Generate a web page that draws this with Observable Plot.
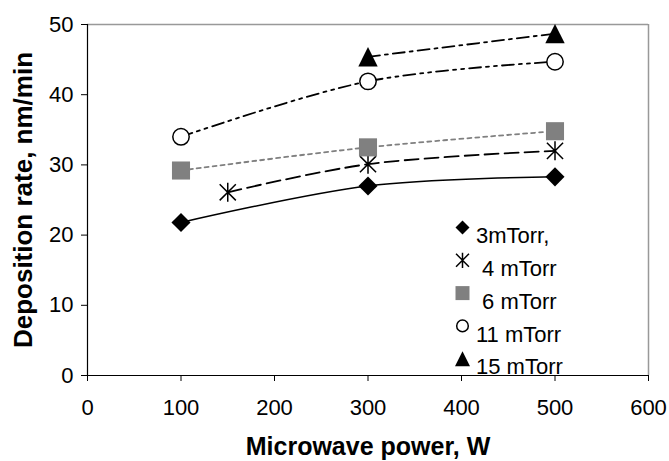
<!DOCTYPE html>
<html>
<head>
<meta charset="utf-8">
<script src="https://cdn.jsdelivr.net/npm/d3@7"></script>
<script src="https://cdn.jsdelivr.net/npm/@observablehq/plot@0.6"></script>
<style>
  html, body { margin: 0; padding: 0; background: #fff; }
  #chart svg text { white-space: pre; }
</style>
</head>
<body>
<div id="chart"></div>
<script>
// ---- data ----
const seriesNames = ["3mTorr,", " 4 mTorr", " 6 mTorr", "11 mTorr", "15 mTorr"];
const power3 = [100, 300, 500];
const rate3 = [21.8, 27.0, 28.3];
const power4 = [150, 300, 500];
const rate4 = [26.1, 30.1, 32.0];
const power6 = [100, 300, 500];
const rate6 = [29.2, 32.5, 34.8];
const power11 = [100, 300, 500];
const rate11 = [34.0, 41.9, 44.7];
const power15 = [300, 500];
const rate15 = [45.4, 48.7];
const xTicks = [0, 100, 200, 300, 400, 500, 600];
const yTicks = [0, 10, 20, 30, 40, 50];
const xTitle = "Microwave power, W";
const yTitle = "Deposition rate, nm/min";

// ---- custom marker shapes ----
const triangleSym = {
  draw(ctx, size) {
    const a = Math.sqrt(size / Math.PI);
    ctx.moveTo(0, -a); ctx.lineTo(a, a); ctx.lineTo(-a, a); ctx.closePath();
  }
};
const asteriskSym = {
  draw(ctx, size) {
    const a = Math.sqrt(size / Math.PI);
    ctx.moveTo(0, -a); ctx.lineTo(0, a);
    ctx.moveTo(-0.85 * a, -0.85 * a); ctx.lineTo(0.85 * a, 0.85 * a);
    ctx.moveTo(-0.85 * a, 0.85 * a); ctx.lineTo(0.85 * a, -0.85 * a);
  }
};

const seriesData = [
  {power: power3, rate: rate3},
  {power: power4, rate: rate4},
  {power: power6, rate: rate6},
  {power: power11, rate: rate11},
  {power: power15, rate: rate15}
];

// styles per series
const styles = [
  {line: {stroke: "black", strokeWidth: 1.5},
   dot: {symbol: "diamond2", r: 8.6, fill: "black", stroke: "none"},
   leg: {r: 6.3}},
  {line: {stroke: "black", strokeWidth: 1.8, strokeDasharray: "14,6"},
   dot: {symbol: asteriskSym, r: 9.5, fill: "none", stroke: "black", strokeWidth: 1.5},
   leg: {r: 7.6}},
  {line: {stroke: "#808080", strokeWidth: 1.8, strokeDasharray: "4,4"},
   dot: {symbol: "square", r: 10.2, fill: "#808080", stroke: "none"},
   leg: {r: 7.9}},
  {line: {stroke: "black", strokeWidth: 1.8, strokeDasharray: "12,5,3,5,3,5"},
   dot: {symbol: "circle", r: 8.2, fill: "white", stroke: "black", strokeWidth: 1.5},
   leg: {r: 5.8}},
  {line: {stroke: "black", strokeWidth: 1.8, strokeDasharray: "12,5,3,5"},
   dot: {symbol: triangleSym, r: 9.7, fill: "black", stroke: "none"},
   leg: {r: 7.5}}
];

const FONT = "'Liberation Sans', Arial, sans-serif";
const marks = [];

// plot-area border (top and right, grey)
marks.push(Plot.ruleY([50], {stroke: "#999", strokeWidth: 1.5}));
marks.push(Plot.ruleX([600], {stroke: "#999", strokeWidth: 1.5}));

seriesData.forEach((s, i) => {
  const rows = s.power.map((p, j) => ({power: p, rate: s.rate[j]}));
  marks.push(Plot.line(rows, {x: "power", y: "rate", curve: "catmull-rom", ...styles[i].line}));
});
seriesData.forEach((s, i) => {
  const rows = s.power.map((p, j) => ({power: p, rate: s.rate[j]}));
  marks.push(Plot.dot(rows, {x: "power", y: "rate", ...styles[i].dot}));
});

marks.push(Plot.ruleY([0], {stroke: "black", strokeWidth: 1.2}));
marks.push(Plot.ruleX([0], {stroke: "black", strokeWidth: 1.2}));

marks.push(Plot.axisX({ticks: xTicks, tickSize: 6, tickPadding: 18, fontSize: 22, label: null, stroke: "black", fill: "black"}));
marks.push(Plot.axisY({ticks: yTicks, tickSize: 6, tickPadding: 8, fontSize: 22, label: null, stroke: "black", fill: "black"}));

// legend (inside the plot area, lower right)
const legDx = 375, legDy0 = 203, legStep = 32.8;
seriesNames.forEach((name, i) => {
  const d = styles[i].dot;
  marks.push(Plot.dot([name], {frameAnchor: "top-left", dx: legDx, dy: legDy0 + i * legStep,
    symbol: d.symbol, r: styles[i].leg.r, fill: d.fill, stroke: d.stroke, strokeWidth: d.strokeWidth}));
  marks.push(Plot.text([name], {frameAnchor: "top-left", text: t => t, dx: legDx + 13.5, dy: legDy0 + i * legStep,
    textAnchor: "start", fontSize: 22, fill: "black"}));
});

// axis titles
marks.push(Plot.text([xTitle], {frameAnchor: "bottom", text: t => t, dy: 62, lineAnchor: "top", textAnchor: "middle",
  fontSize: 25, fontWeight: "bold", fill: "black", letterSpacing: "0.8px"}));
marks.push(Plot.text([yTitle], {frameAnchor: "left", text: t => t, dx: -63.5, rotate: -90, textAnchor: "middle",
  lineAnchor: "middle", fontSize: 26, fontWeight: "bold", fill: "black", letterSpacing: "1.2px"}));

const chart = Plot.plot({
  width: 669,
  height: 461,
  marginLeft: 87,
  marginRight: 21,
  marginTop: 24,
  marginBottom: 86,
  style: {fontFamily: FONT, color: "black", background: "white", overflow: "visible"},
  x: {domain: [0, 600]},
  y: {domain: [0, 50]},
  marks
});
document.getElementById("chart").appendChild(chart);
</script>
</body>
</html>
